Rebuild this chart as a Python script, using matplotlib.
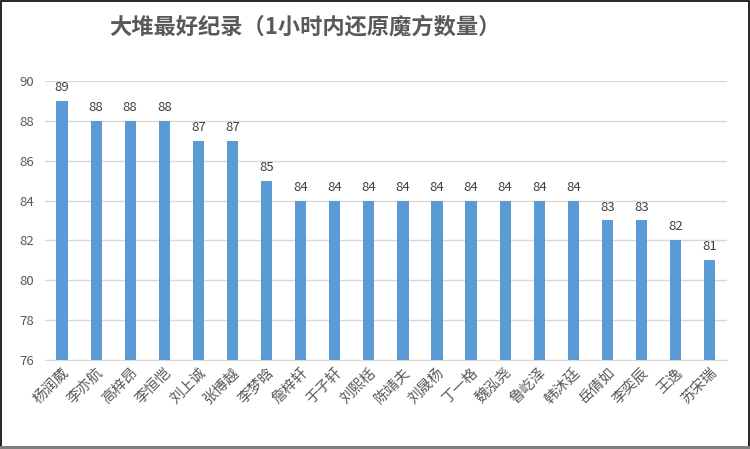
import matplotlib.pyplot as plt
from matplotlib.patches import Rectangle

plt.rcParams['font.family'] = ['Noto Sans CJK SC', 'DejaVu Sans']

names = ["杨润葳", "李亦航", "高梓昂", "李恒恺", "刘上诚", "张博越", "李梦晗",
         "詹梓轩", "于子轩", "刘熙栝", "陈靖夫", "刘晟杨", "丁一格", "魏泓尧",
         "鲁屹泽", "韩沐廷", "岳倩如", "李奕辰", "王逸", "苏宋瑞"]
counts = [89, 88, 88, 88, 87, 87, 85, 84, 84, 84, 84, 84, 84, 84, 84, 84, 83, 83, 82, 81]
yticks = [76, 78, 80, 82, 84, 86, 88, 90]

fig = plt.figure(figsize=(7.5, 4.49), dpi=100)
ax = fig.add_axes([0.06, 0.198, 0.909, 0.622])

x = range(len(names))
ax.bar(x, counts, width=0.33, color="#5B9BD5", zorder=3)
for i, v in zip(x, counts):
    ax.annotate(str(v), (i, v), xytext=(0, 5), textcoords="offset points",
                ha="center", va="bottom", fontsize=9.5, color="#404040")

ax.set_xlim(-0.5, len(names) - 0.5)
ax.set_ylim(76, 90)
ax.set_yticks(yticks)
ax.set_yticklabels([str(t) for t in yticks], fontsize=9.5, color="#595959")
ax.yaxis.grid(True, color="#D9D9D9", linewidth=1, zorder=0)
ax.set_xticks(list(x))
ax.set_xticklabels(names, rotation=45, ha="right", rotation_mode="anchor",
                   fontsize=10.5, color="#595959")
ax.tick_params(axis="both", length=0, pad=4)
ax.tick_params(axis="y", pad=8)
for s in ["top", "right", "left"]:
    ax.spines[s].set_visible(False)
ax.spines["bottom"].set_color("#D9D9D9")

fig.text(0.407, 0.94, "大堆最好纪录（1小时内还原魔方数量）", ha="center", va="center",
         fontsize=16, color="#595959", fontweight="bold")

fig.patches.append(Rectangle((0.001, 0.004), 0.997, 0.994, transform=fig.transFigure,
                             fill=False, edgecolor="#000000", linewidth=1.2))
fig.patches.append(Rectangle((0, 0), 1, 0.006, transform=fig.transFigure,
                             color="#7F7F7F", linewidth=0))

fig.savefig("out.png", dpi=100)
